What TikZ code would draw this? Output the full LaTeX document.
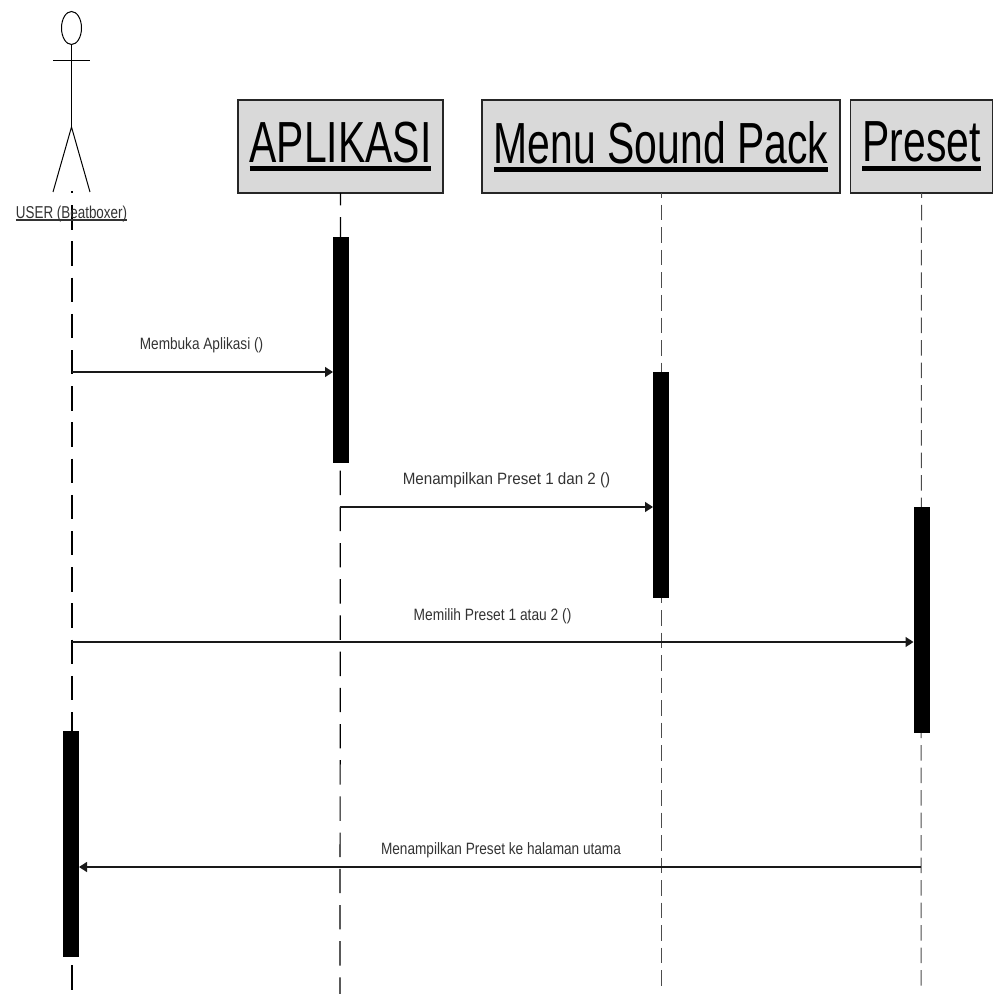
\documentclass[tikz,border=0pt]{standalone}
\usepackage{fontspec}
\setmainfont{Liberation Sans}
\usetikzlibrary{arrows.meta,shapes.geometric}
\newcommand{\ulfill}[2]{\setbox0\hbox{#2}\rlap{\rule[-#1]{\wd0}{0.09em}}\box0}
\tikzset{
  x=0.5pt,y=-0.5pt,
  title/.style={draw=black!85,line width=0.9pt,fill=black!15,inner sep=0pt,outer sep=0pt,
    minimum height=46.5pt,font=\fontsize{29}{32}\selectfont},
  bar/.style={fill=black,draw=none,inner sep=0pt,outer sep=0pt,minimum width=8pt,minimum height=113pt},
  longdash/.style={line width=0.6pt,black,dash pattern=on 12.2pt off 5.9pt},
  shortdash/.style={line width=0.5pt,black!70,dash pattern=on 7.75pt off 3.5pt,dash phase=5.25pt},
  msg/.style={line width=0.65pt,black!90,-{Triangle[length=4pt,width=5pt]}},
  msglabel/.style={inner sep=0pt,text=black!80,font=\fontsize{8.2}{10}\selectfont},
  limb/.style={line width=0.5pt,black},
}
\newcommand{\sq}[2]{\scalebox{#1}[1]{#2}}
\begin{document}
\begin{tikzpicture}
\useasboundingbox (0,0) rectangle (994,994);
% lifeline ends
\coordinate (uTop) at (72,191); \coordinate (uEnd) at (72,990);
\coordinate (aEnd) at (340,994); \coordinate (mEnd) at (661,990); \coordinate (pEnd) at (921,990);
\draw[longdash,dash phase=11pt] (uTop) -- (uEnd);
% heads
\node[title,minimum width=102.5pt] (apl) at (340.5,146.5) {\sq{0.705}{\ulfill{4.5pt}{APLIKASI}}};
\node[title,minimum width=179pt] (menu) at (661,146.5) {\sq{0.705}{\ulfill{4.5pt}{Menu Sound Pack}}};
\node[title,minimum width=71pt] (pre) at (921.5,146.5) {\sq{0.705}{\ulfill{4.5pt}{Preset}}};
\draw[longdash,dash phase=6pt] (apl.south) -- (aEnd);
\draw[shortdash] (menu.south) -- (mEnd);
\draw[shortdash] (pre.south) -- (pEnd);
% activation bars
\node[bar] (ba) at (341,350) {};
\node[bar] (bm) at (661,485) {};
\node[bar] (bp) at (921.5,620) {};
\node[bar] (bu) at (71,844) {};
% actor
\node[draw=black,line width=0.5pt,ellipse,minimum width=10pt,minimum height=16.5pt,inner sep=0pt,outer sep=0pt] (head) at (71.5,28) {};
\coordinate (hip) at (71.5,127);
\coordinate (armL) at (53,61); \coordinate (armR) at (90,61);
\coordinate (legL) at (53,192); \coordinate (legR) at (90,192);
\draw[limb] (head.south) -- (hip);
\draw[limb] (armL) -- (armR);
\draw[limb] (legL) -- (hip) -- (legR);
\node[inner sep=0pt,text=black!80,font=\fontsize{8.6}{10}\selectfont] (ulabel) at (71.5,214) {\sq{0.78}{\ulfill{1.2pt}{USER (Beatboxer)}}};
% message ends
\coordinate (m1s) at (72,372); \coordinate (m1e) at (ba.west |- m1s);
\coordinate (m2s) at (340,507); \coordinate (m2e) at (bm.west |- m2s);
\coordinate (m3s) at (72,642); \coordinate (m3e) at (bp.west |- m3s);
\coordinate (m4s) at (921,867); \coordinate (m4e) at (bu.east |- m4s);
\draw[msg] (m1s) -- (m1e);
\draw[msg] (m2s) -- (m2e);
\draw[msg] (m3s) -- (m3e);
\draw[msg] (m4s) -- (m4e);
\node[msglabel] (l1) at (201.5,345.5) {\sq{0.83}{Membuka Aplikasi ()}};
\node[msglabel] (l2) at (506.5,480.5) {\sq{0.925}{Menampilkan Preset 1 dan 2 ()}};
\node[msglabel] (l3) at (492.5,616.5) {\sq{0.84}{Memilih Preset 1 atau 2 ()}};
\node[msglabel] (l4) at (501,850.5) {\sq{0.83}{Menampilkan Preset ke halaman utama}};
\end{tikzpicture}
\end{document}
